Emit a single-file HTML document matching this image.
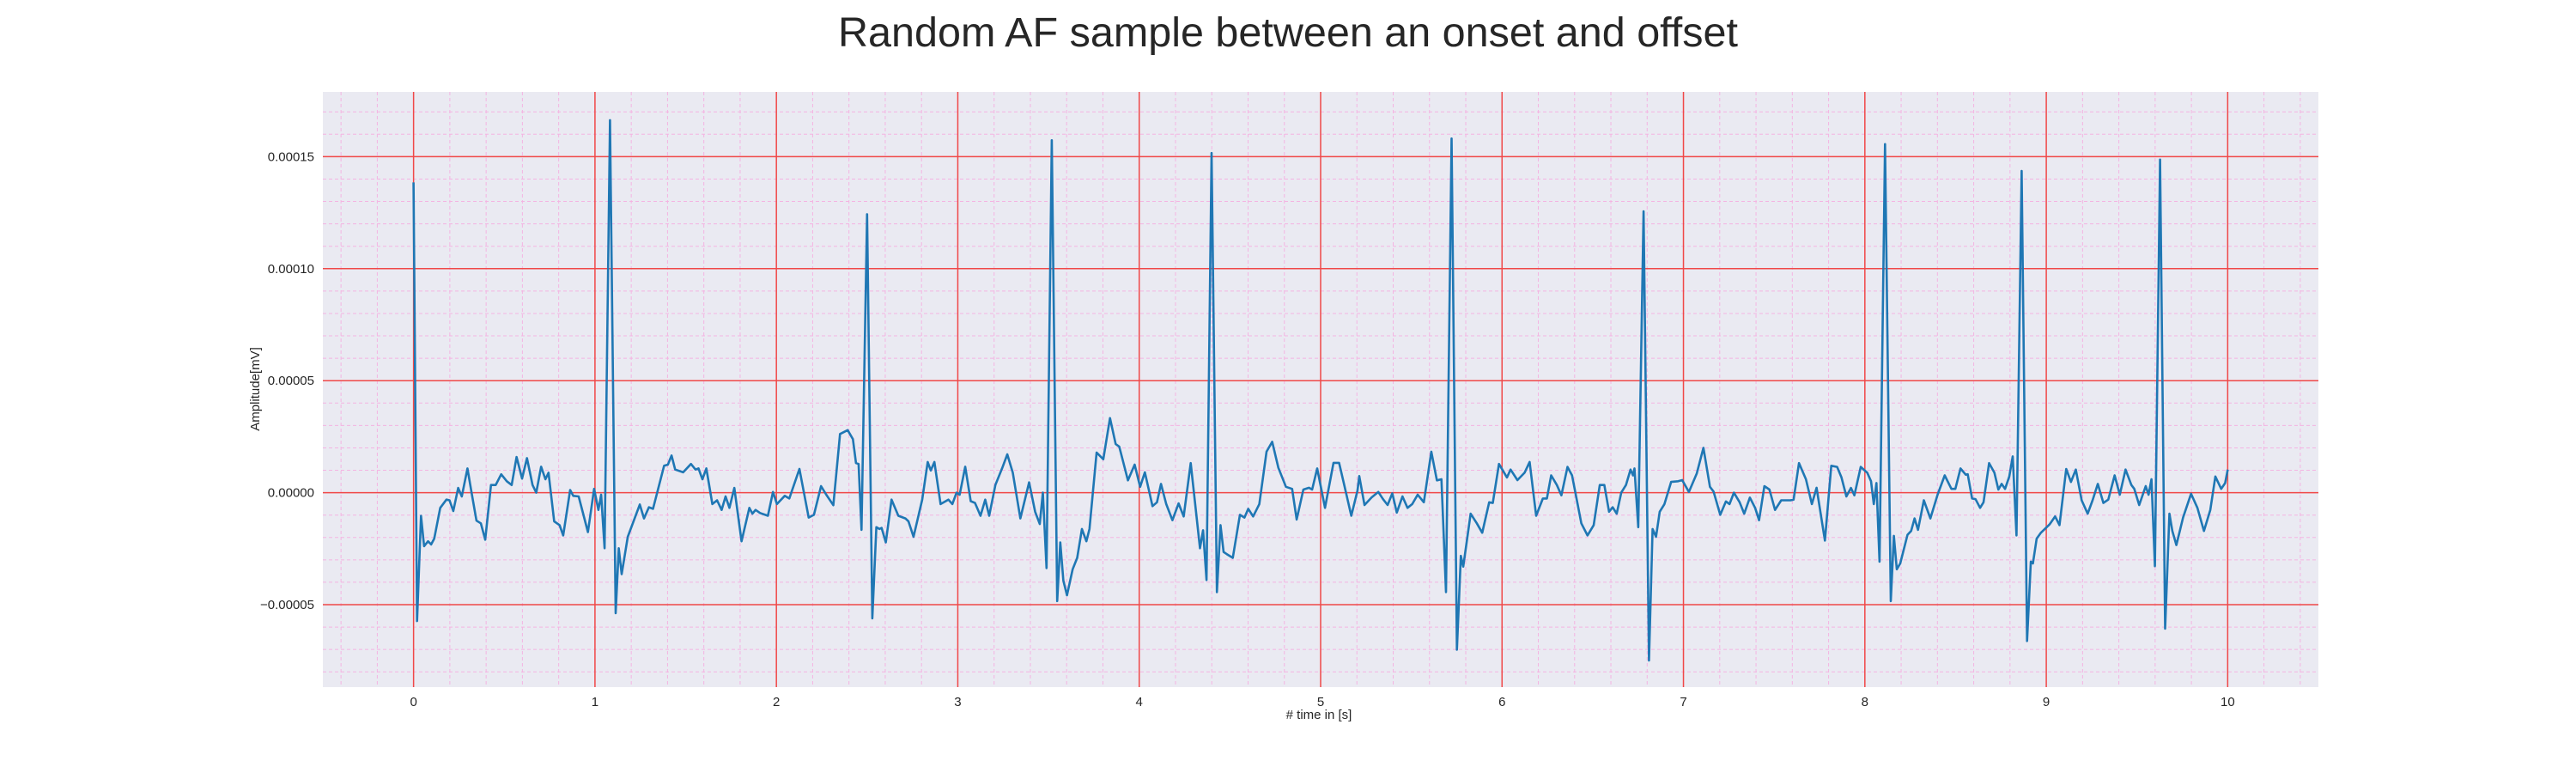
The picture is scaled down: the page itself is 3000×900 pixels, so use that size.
<!DOCTYPE html>
<html><head><meta charset="utf-8">
<style>
html,body{margin:0;padding:0;background:#fff;}
svg{display:block;font-family:"Liberation Sans",sans-serif;}
</style></head>
<body>
<svg id="chart" width="3000" height="900" viewBox="0 0 3000 900" xmlns="http://www.w3.org/2000/svg">
<text x="1500" y="54" font-size="48.5" text-anchor="middle" fill="#262626">Random AF sample between an onset and offset</text>
<rect x="376" y="107" width="2324" height="693" fill="#EAEAF2"/>
<g id="minor-grid"></g>
<g id="major-grid"></g>
<g id="x-ticks"></g>
<g id="y-ticks"></g>
<path id="signal" fill="none" stroke="#1f77b4" stroke-width="2.6" stroke-linejoin="round"/>
<text x="1536" y="837" font-size="15" text-anchor="middle" fill="#262626"># time in [s]</text>
<text x="0" y="0" font-size="15" text-anchor="middle" fill="#262626" transform="translate(302,453) rotate(-90)">Amplitude[mV]</text>
</svg>
<script>
const timeS = [0,0.019,0.041,0.058,0.080,0.097,0.114,0.147,0.181,0.198,0.219,0.246,0.266,0.297,0.320,0.347,0.371,0.395,0.427,0.453,0.483,0.514,0.541,0.568,0.598,0.625,0.656,0.676,0.703,0.727,0.744,0.775,0.805,0.825,0.863,0.880,0.910,0.961,0.995,1.019,1.034,1.053,1.083,1.114,1.131,1.147,1.181,1.247,1.270,1.297,1.320,1.381,1.402,1.422,1.442,1.486,1.529,1.554,1.571,1.592,1.614,1.647,1.673,1.698,1.720,1.741,1.768,1.808,1.851,1.868,1.885,1.910,1.953,1.981,2.003,2.046,2.071,2.127,2.178,2.207,2.246,2.275,2.314,2.351,2.393,2.422,2.439,2.453,2.469,2.500,2.529,2.551,2.568,2.580,2.603,
2.635,2.672,2.711,2.728,2.756,2.804,2.834,2.851,2.871,2.905,2.948,2.970,2.993,3.010,3.041,3.071,3.095,3.125,3.151,3.173,3.207,3.244,3.273,3.303,3.345,3.393,3.426,3.452,3.469,3.489,3.518,3.548,3.565,3.582,3.602,3.633,3.658,3.684,3.709,3.726,3.765,3.802,3.839,3.870,3.890,3.938,3.975,4.005,4.031,4.073,4.098,4.120,4.149,4.183,4.217,4.245,4.284,4.335,4.352,4.371,4.399,4.428,4.448,4.465,4.482,4.516,4.555,4.580,4.601,4.628,4.662,4.702,4.733,4.767,4.809,4.843,4.868,4.905,4.936,4.953,4.981,5.024,5.071,5.102,5.130,5.169,5.203,
5.213,5.242,5.281,5.318,5.344,5.369,5.395,5.420,5.451,5.479,5.505,5.535,5.569,5.610,5.641,5.666,5.691,5.722,5.751,5.773,5.786,5.827,5.861,5.891,5.929,5.949,5.983,6.027,6.047,6.085,6.124,6.152,6.188,6.225,6.247,6.271,6.302,6.327,6.361,6.386,6.437,6.471,6.505,6.539,6.564,6.590,6.610,6.632,6.657,6.683,6.708,6.722,6.730,6.751,6.780,6.810,6.830,6.849,6.869,6.895,6.932,6.971,6.993,7.030,7.073,7.110,7.146,7.166,7.203,7.234,7.254,7.278,7.310,7.335,7.366,7.395,7.417,7.446,7.474,7.505,7.539,7.590,7.607,7.637,7.675,7.708,7.734,7.780,
7.815,7.847,7.871,7.898,7.923,7.942,7.977,8.013,8.034,8.049,8.064,8.081,8.111,8.143,8.160,8.176,8.195,8.235,8.255,8.274,8.293,8.325,8.361,8.401,8.440,8.477,8.499,8.527,8.556,8.567,8.591,8.610,8.635,8.654,8.685,8.714,8.736,8.754,8.773,8.796,8.815,8.836,8.864,8.894,8.915,8.926,8.947,8.970,9.018,9.049,9.073,9.110,9.136,9.163,9.195,9.228,9.255,9.284,9.315,9.342,9.377,9.405,9.437,9.469,9.485,9.512,9.548,9.564,9.580,9.599,9.627,9.655,9.679,9.695,9.717,9.754,9.798,9.833,9.869,9.904,9.932,9.964,9.986,10.0];
const ampE5 = [13.85,-5.73,-1.03,-2.39,-2.17,-2.31,-2.05,-0.68,-0.31,-0.34,-0.82,0.21,-0.17,1.08,0,-1.25,-1.37,-2.10,0.34,0.34,0.82,0.51,0.34,1.59,0.63,1.54,0.34,0,1.16,0.60,0.89,-1.28,-1.45,-1.91,0.12,-0.14,-0.17,-1.76,0.17,-0.77,-0.09,-2.48,16.63,-5.38,-2.48,-3.64,-1.97,-0.53,-1.15,-0.65,-0.72,1.20,1.25,1.66,1.03,0.91,1.28,1.03,1.08,0.60,1.08,-0.51,-0.34,-0.77,-0.17,-0.68,0.21,-2.17,-0.68,-0.94,-0.77,-0.91,-1.03,0.03,-0.51,-0.14,-0.26,1.06,-1.11,-0.99,0.29,-0.09,-0.56,2.62,2.79,2.39,1.32,1.28,-1.66,12.43,-5.61,-1.54,-1.62,-1.57,-2.22,
-0.31,-1.03,-1.15,-1.28,-1.97,-0.31,1.37,0.99,1.37,-0.51,-0.31,-0.51,0,-0.09,1.16,-0.38,-0.46,-1.03,-0.31,-1.03,0.34,1.08,1.71,0.89,-1.15,0.46,-0.85,-1.40,0,-3.37,15.73,-4.84,-2.22,-3.93,-4.58,-3.42,-2.91,-1.62,-2.17,-1.62,1.79,1.49,3.33,2.17,2.05,0.55,1.25,0.26,0.91,-0.60,-0.43,0.39,-0.51,-1.23,-0.48,-1.06,1.32,-2.48,-1.68,-3.90,15.16,-4.44,-1.45,-2.65,-2.74,-2.91,-0.99,-1.11,-0.72,-1.06,-0.51,1.83,2.27,1.11,0.26,0.17,-1.20,0.14,0.22,0.14,1.08,-0.68,1.33,1.33,0.34,-1.03,0.09,
0.74,-0.55,-0.21,0.03,-0.29,-0.55,-0.03,-0.89,-0.17,-0.68,-0.51,-0.09,-0.43,1.83,0.55,0.60,-4.44,15.81,-7.01,-2.82,-3.30,-0.94,-1.37,-1.79,-0.43,-0.46,1.28,0.68,1.03,0.56,0.89,1.37,-1.03,-0.26,-0.26,0.77,0.34,-0.12,1.15,0.77,-1.37,-1.91,-1.45,0.34,0.34,-0.85,-0.65,-0.94,0,0.34,1.03,0.77,1.08,-1.54,12.56,-7.49,-1.62,-1.97,-0.85,-0.51,0.48,0.51,0.56,0.03,0.85,2.0,0.26,0.05,-0.99,-0.39,-0.51,0,-0.43,-0.94,-0.22,-0.68,-1.23,0.29,0.14,-0.77,-0.34,-0.34,-0.31,1.32,0.60,-0.51,0.22,-2.14,
1.20,1.15,0.68,-0.17,0.21,-0.12,1.15,0.89,0.51,-0.51,0.43,-3.08,15.56,-4.84,-1.93,-3.42,-3.16,-1.88,-1.71,-1.15,-1.66,-0.34,-1.15,-0.09,0.77,0.17,0.17,1.08,0.80,0.82,-0.26,-0.29,-0.68,-0.43,1.32,0.89,0.14,0.39,0.17,0.72,1.62,-1.91,14.36,-6.62,-3.08,-3.16,-2.05,-1.79,-1.42,-1.06,-1.45,1.06,0.48,1.03,-0.34,-0.94,-0.34,0.39,-0.46,-0.31,0.77,-0.09,1.03,0.34,0.17,-0.55,0.29,-0.09,0.60,-3.28,14.87,-6.07,-0.94,-1.71,-2.34,-1.11,-0.05,-0.68,-1.71,-0.77,0.72,0.17,0.43,1.03];
const xTickLabels = ["0","1","2","3","4","5","6","7","8","9","10"];
const yTickValues = [-0.00005,0,0.00005,0.0001,0.00015];
const yTickLabels = ["\u22120.00005","0.00000","0.00005","0.00010","0.00015"];

const NS="http://www.w3.org/2000/svg";
const X0=376,X1=2700,Y0=107,Y1=800;
const xMin=-0.5,xMax=10.5,yMin=-0.0000868,yMax=0.0001789;
const sx=t=>X0+(t-xMin)/(xMax-xMin)*(X1-X0);
const sy=v=>Y1-(v-yMin)/(yMax-yMin)*(Y1-Y0);
function mk(tag,attrs,parent){const e=document.createElementNS(NS,tag);for(const k in attrs)e.setAttribute(k,attrs[k]);parent.appendChild(e);return e;}

const minor=document.getElementById('minor-grid');
for(let i=-2;i<=52;i++){const t=i*0.2;if(t<xMin||t>xMax)continue;
  const l=mk('line',{x1:sx(t),x2:sx(t),y1:Y0,y2:Y1,stroke:'#f4b4e2','stroke-width':1,'stroke-dasharray':'4,3'},minor);
  
  }
for(let i=-8;i<=17;i++){const v=i*0.00001;if(v<yMin||v>yMax)continue;
  const l=mk('line',{x1:X0,x2:X1,y1:sy(v),y2:sy(v),stroke:'#f4b4e2','stroke-width':1,'stroke-dasharray':'4,3'},minor);
  
  }

const major=document.getElementById('major-grid');
const xt=document.getElementById('x-ticks');
xTickLabels.forEach((lab,i)=>{const t=+lab;
  const l=mk('line',{x1:sx(t),x2:sx(t),y1:Y0,y2:Y1,stroke:'#f04848','stroke-width':1.5},major);
  
  
  const tx=mk('text',{x:sx(t),y:822,'font-size':15,'text-anchor':'middle',fill:'#262626'},xt);
  tx.textContent=lab;
  
  });
const yt=document.getElementById('y-ticks');
yTickValues.forEach((v,i)=>{
  const l=mk('line',{x1:X0,x2:X1,y1:sy(v),y2:sy(v),stroke:'#f04848','stroke-width':1.5},major);
  
  
  const tx=mk('text',{x:366,y:sy(v)+5,'font-size':15,'text-anchor':'end',fill:'#262626'},yt);
  tx.textContent=yTickLabels[i];
  
  });

const amp=ampE5.map(v=>v*1e-5);
let d='';
for(let i=0;i<timeS.length;i++){d+=(i?'L':'M')+sx(timeS[i]).toFixed(1)+','+sy(amp[i]).toFixed(1);}
document.getElementById('signal').setAttribute('d',d);
</script>
</body></html>
